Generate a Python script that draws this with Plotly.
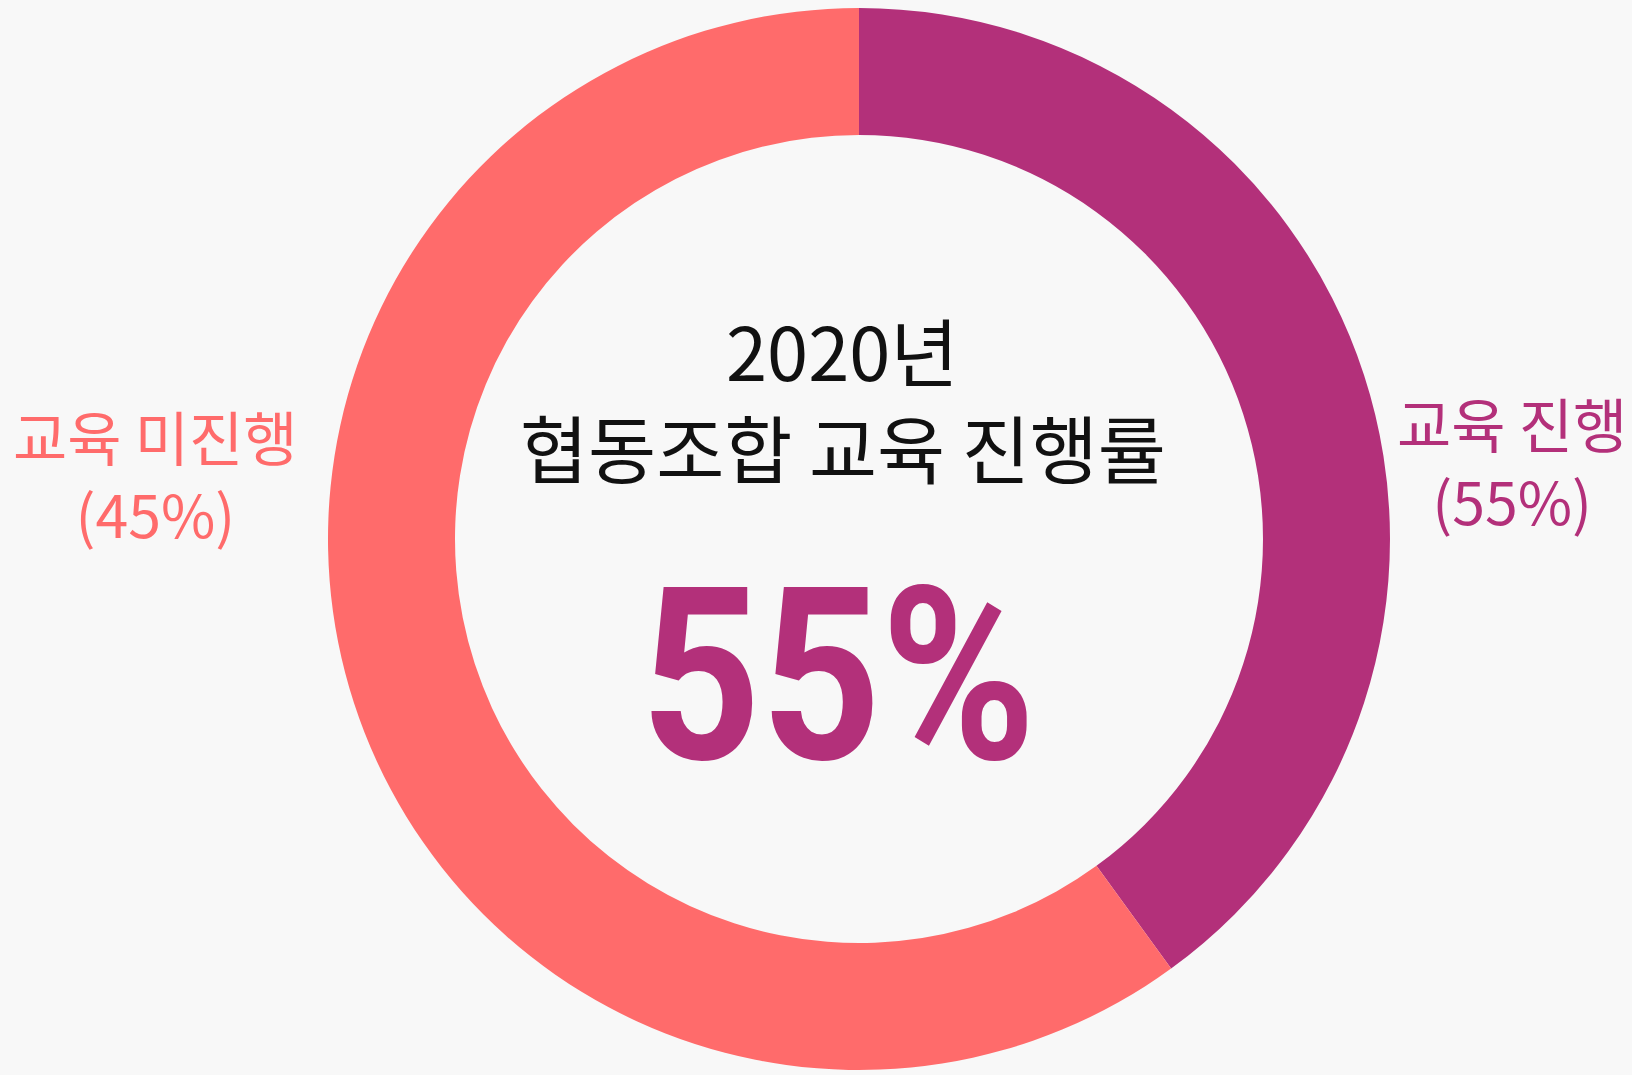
import plotly.graph_objects as go

W, H = 1632, 1075

# data
categories = ["교육 진행", "교육 미진행"]
slice_values = [40, 60]          # arc sizes as drawn
label_pcts = ["55%", "45%"]      # percentages printed in the labels
title_lines = ["2020년", "협동조합 교육 진행률"]
headline = "55%"

colors = ["#b3307a", "#ff6b6b"]
bg = "#f8f8f8"

cx, cy, r = 859, 539, 531

fig = go.Figure(go.Pie(
    labels=categories,
    values=slice_values,
    sort=False,
    direction="clockwise",
    rotation=0,
    hole=404 / 531,
    marker=dict(colors=colors, line=dict(width=0)),
    textinfo="none",
    hoverinfo="skip",
    showlegend=False,
    domain=dict(x=[(cx - r) / W, (cx + r) / W], y=[1 - (cy + r) / H, 1 - (cy - r) / H]),
))

def px(x, y):
    return x / W, 1 - y / H

ann = []
def add(text, x, y, size, color, family="Noto Sans CJK KR", weight="normal"):
    ax, ay = px(x, y)
    ann.append(dict(text=text, x=ax, y=ay, xref="paper", yref="paper",
                    xanchor="center", yanchor="middle", showarrow=False,
                    font=dict(size=size, color=color, family=family, weight=weight)))

# outside labels
add(f"{categories[1]}<br>({label_pcts[1]})", 155, 474, 59, colors[1])
add(f"{categories[0]}<br>({label_pcts[0]})", 1512, 461, 59, colors[0])

# center text
add(title_lines[0], 842, 349, 74, "#111111")
add(title_lines[1], 843, 445, 74, "#111111")
add(headline, 839, 676, 242, colors[0], family="Roboto", weight="bold")

fig.update_layout(
    width=W, height=H,
    margin=dict(l=0, r=0, t=0, b=0),
    paper_bgcolor=bg, plot_bgcolor=bg,
    annotations=ann,
)

post = """
document.body.style.margin='0';
document.body.style.background='#f8f8f8';
var t=document.querySelector('.annotation[data-index="4"] text.annotation-text');
if(t){t.style.transformBox='fill-box';t.style.transformOrigin='center';t.style.transform='scaleX(0.865)';}
"""

fig.write_html("out.html", config={"displayModeBar": False}, post_script=post)
